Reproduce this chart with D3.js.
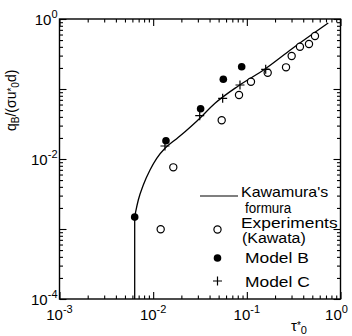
<!DOCTYPE html>
<html>
<head>
<meta charset="utf-8">
<script src="https://cdn.jsdelivr.net/npm/d3@7"></script>
<style>
  html, body { margin: 0; padding: 0; background: #fff; }
  svg { display: block; }
  text { font-family: "Liberation Sans", Arial, Helvetica, sans-serif; fill: #000; }
</style>
</head>
<body>
<svg id="chart" width="352" height="336"></svg>
<script>
// Kawamura's formula, traced as (tau*0, qB/(sigma u*0 d)) pairs;
// the first pair is the foot of the vertical drop at the critical value
const formulaTau = [0.00635, 0.00635, 0.006509, 0.006939, 0.007845, 0.009253, 0.01091, 0.01338, 0.01710, 0.02187, 0.02937, 0.04573, 0.08103, 0.1563, 0.3012, 0.7409];
const formulaQ   = [0.0001, 0.001484, 0.001767, 0.002597, 0.004252, 0.006966, 0.01023, 0.01422, 0.01868, 0.02455, 0.03490, 0.06247, 0.1104, 0.1931, 0.3728, 0.8767];

// Experiments (Kawata)
const expTau = [0.01203, 0.0164, 0.0539, 0.0825, 0.1107, 0.167, 0.262, 0.301, 0.369, 0.461, 0.534];
const expQ   = [0.00099, 0.0076, 0.0357, 0.082, 0.127, 0.171, 0.204, 0.296, 0.402, 0.440, 0.572];

// Model B
const modelBTau = [0.00635, 0.0137, 0.0321, 0.0561, 0.0881];
const modelBQ   = [0.00148, 0.0182, 0.0523, 0.1377, 0.208];

// Model C
const modelCTau = [0.01336, 0.0314, 0.0552, 0.0845, 0.159];
const modelCQ   = [0.01534, 0.0416, 0.0737, 0.114, 0.191];

// Axis tick labels (decade exponents)
const xTickExp = [-3, -2, -1, 0];
const yTickExp = [-4, -2, 0];

const legendItems = [
  { kind: "line",   lines: ["Kawamura's", "formura"] },
  { kind: "open",   lines: ["Experiments", "(Kawata)"] },
  { kind: "filled", lines: ["Model B"] },
  { kind: "plus",   lines: ["Model C"] }
];

const svg = d3.select("#chart");
const L = 59.5, R = 340.5, T = 19, B = 299;

const x = d3.scaleLog().domain([1e-3, 1]).range([L, R]);
const y = d3.scaleLog().domain([1e-4, 1]).range([B, T]);

function decadeTicks(lo, hi) {
  const major = [], minor = [];
  for (let e = lo; e <= hi; e++) {
    major.push(Math.pow(10, e));
    if (e < hi) for (let k = 2; k <= 9; k++) minor.push(k * Math.pow(10, e));
  }
  return { major, minor };
}
const xt = decadeTicks(-3, 0);
const yt = decadeTicks(-4, 0);

// frame ticks, all pointing inward
function drawAxis(axisFn, scale, ticks, transform) {
  const g = svg.append("g").attr("transform", transform);
  g.append("g").call(axisFn(scale).tickValues(ticks.major).tickSize(-7).tickSizeOuter(0).tickFormat(""));
  g.append("g").call(axisFn(scale).tickValues(ticks.minor).tickSize(-3.5).tickSizeOuter(0).tickFormat(""));
  g.selectAll("path.domain").remove();
  g.selectAll("line").attr("stroke", "#000").attr("stroke-width", 1.1);
}
drawAxis(d3.axisBottom, x, xt, `translate(0,${B})`);
drawAxis(d3.axisTop, x, xt, `translate(0,${T})`);
drawAxis(d3.axisLeft, y, yt, `translate(${L},0)`);
drawAxis(d3.axisRight, y, yt, `translate(${R},0)`);

svg.append("rect")
  .attr("x", L).attr("y", T).attr("width", R - L).attr("height", B - T)
  .attr("fill", "none").attr("stroke", "#000").attr("stroke-width", 1.4);

// tick labels with superscript exponents
function powerLabel(sel, e) {
  sel.append("tspan").text("10");
  sel.append("tspan").attr("dy", -7).attr("font-size", 11).text(e === 0 ? "0" : String(e));
}
xTickExp.forEach(e => {
  const t = svg.append("text")
    .attr("x", x(Math.pow(10, e)) - (e === 0 ? 4 : 0))
    .attr("y", B + 21)
    .attr("font-size", 15)
    .attr("text-anchor", "middle");
  powerLabel(t, e);
});
yTickExp.forEach(e => {
  const t = svg.append("text")
    .attr("x", L - 2)
    .attr("y", y(Math.pow(10, e)) + 6)
    .attr("font-size", 15)
    .attr("text-anchor", "end");
  powerLabel(t, e);
});

// axis titles
const xTitle = svg.append("text").attr("x", 291).attr("y", 331).attr("font-size", 15);
xTitle.append("tspan").text("τ");
xTitle.append("tspan").attr("font-size", 10).attr("dy", -2).text("*");
xTitle.append("tspan").attr("font-size", 11).attr("dy", 5).text("0");

const yTitle = svg.append("text")
  .attr("transform", "translate(16,131) rotate(-90)")
  .attr("font-size", 14);
yTitle.append("tspan").text("q");
yTitle.append("tspan").attr("font-size", 10).attr("dy", 3).text("B");
yTitle.append("tspan").attr("dy", -3).text("/(σu");
yTitle.append("tspan").attr("font-size", 10).attr("dy", -1).text("*");
yTitle.append("tspan").attr("font-size", 10).attr("dy", 4).text("0");
yTitle.append("tspan").attr("dy", -3).text("d)");

// Kawamura's formula: vertical drop at the critical value, then the smooth branch
const formula = formulaTau.map((t, i) => [t, formulaQ[i]]);
const curveG = svg.append("g").attr("fill", "none").attr("stroke", "#000").attr("stroke-width", 1.3);
curveG.append("path")
  .datum(formula.slice(0, 2))
  .attr("d", d3.line().x(d => x(d[0])).y(d => y(d[1])));
curveG.append("path")
  .datum(formula.slice(1))
  .attr("d", d3.line().x(d => x(d[0])).y(d => y(d[1])).curve(d3.curveMonotoneX));

// markers
function drawMarker(g, kind, cx, cy) {
  if (kind === "open") {
    g.append("circle").attr("cx", cx).attr("cy", cy).attr("r", 3.6)
      .attr("fill", "#fff").attr("stroke", "#000").attr("stroke-width", 1.2);
  } else if (kind === "filled") {
    g.append("circle").attr("cx", cx).attr("cy", cy).attr("r", 3.8).attr("fill", "#000");
  } else if (kind === "plus") {
    g.append("path").attr("d", `M${cx - 4.5},${cy}H${cx + 4.5}M${cx},${cy - 4.5}V${cy + 4.5}`)
      .attr("stroke", "#000").attr("stroke-width", 1.2);
  }
}
const marks = svg.append("g");
expTau.forEach((t, i) => drawMarker(marks, "open", x(t), y(expQ[i])));
modelCTau.forEach((t, i) => drawMarker(marks, "plus", x(t), y(modelCQ[i])));
modelBTau.forEach((t, i) => drawMarker(marks, "filled", x(t), y(modelBQ[i])));

// legend: marker row, text lines (x, baseline, size, horizontal stretch)
const legendMarkY = [196, 229.5, 258, 281];
const legendText = [
  [[241, 196.5, 14, 1.14], [245, 213, 14, 0.96]],
  [[241, 228, 14.5, 1.2], [242, 243, 14.5, 1.1]],
  [[245, 263, 14.5, 1.2]],
  [[245, 287, 14.5, 1.2]]
];
const legend = svg.append("g");
legendItems.forEach((item, i) => {
  const cy = legendMarkY[i];
  if (item.kind === "line") {
    legend.append("line").attr("x1", 200).attr("x2", 238).attr("y1", cy).attr("y2", cy)
      .attr("stroke", "#000").attr("stroke-width", 1.1);
  } else {
    drawMarker(legend, item.kind, 217.5, cy);
  }
  item.lines.forEach((s, j) => {
    const [tx, ty, fs, sx] = legendText[i][j];
    legend.append("text")
      .attr("transform", `translate(${tx},${ty}) scale(${sx},1)`)
      .attr("font-size", fs)
      .text(s);
  });
});
</script>
</body>
</html>
